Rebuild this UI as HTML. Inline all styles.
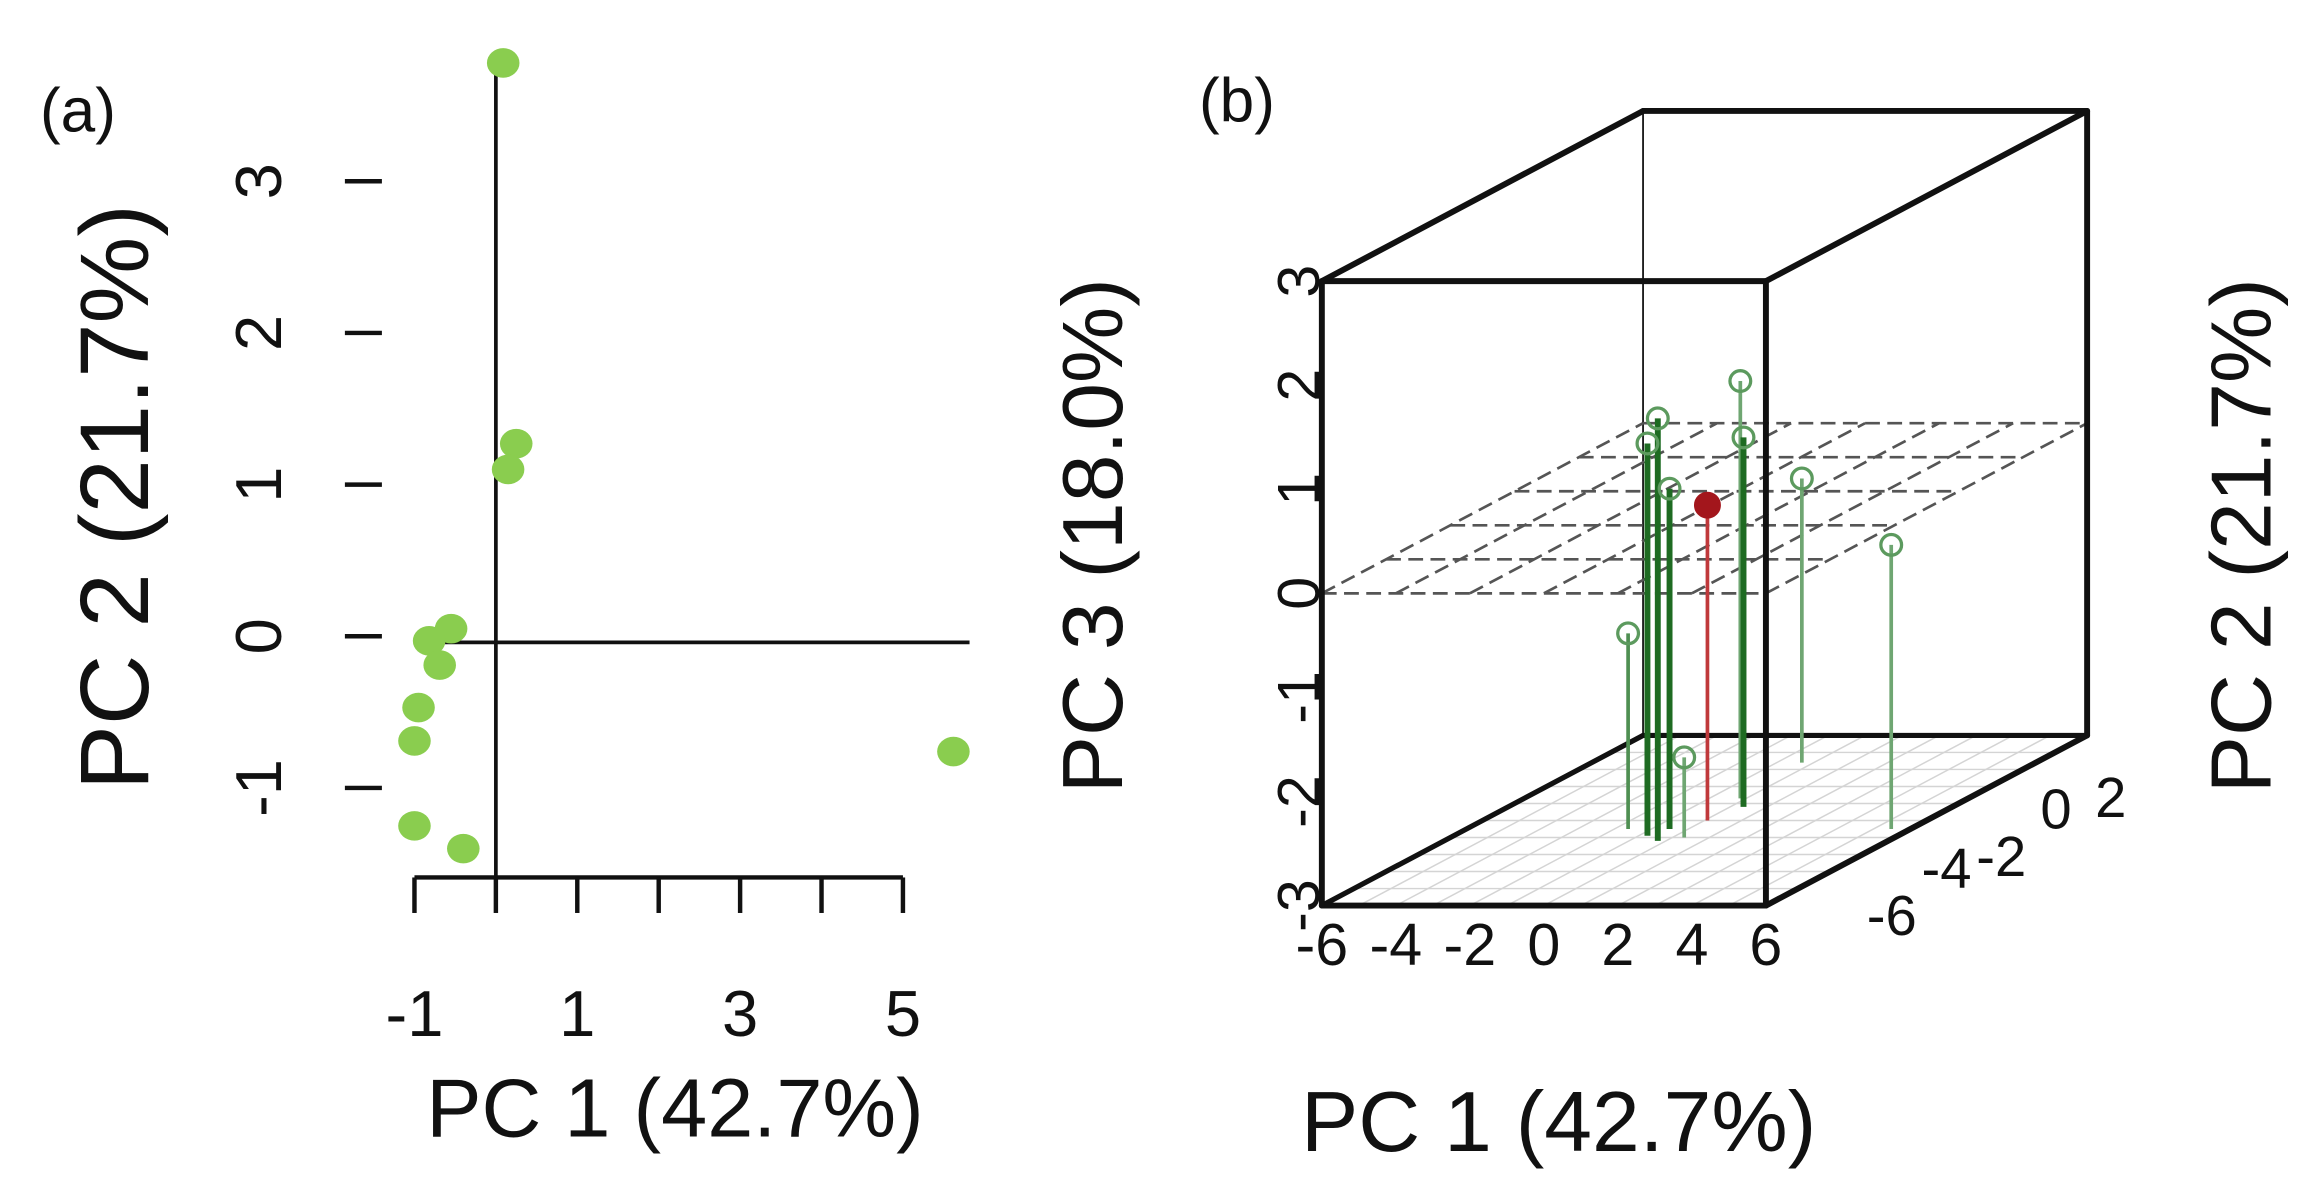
<!DOCTYPE html>
<html><head><meta charset="utf-8"><style>
html,body{margin:0;padding:0;background:#fff}
svg{display:block}
text{font-family:"Liberation Sans",Arial,sans-serif;fill:#111}
</style></head><body>
<svg id="fig" width="2321" height="1203" viewBox="0 0 1568 813" preserveAspectRatio="none">
<rect width="1568" height="813" fill="#fff"/>
<g id="pa"></g>
<g id="pb"></g>
</svg>
<script>
// ---- Panel (a) data ----
const aPC1 = [0.09, 0.25, 0.15, -0.55, -0.82, -0.69, -0.95, -1.0, -1.0, -0.4, 5.62];
const aPC2 = [3.78, 1.27, 1.10, 0.05, -0.03, -0.19, -0.47, -0.69, -1.25, -1.40, -0.76];
const aXTicks = [-1, 0, 1, 2, 3, 4, 5];
const aXLabels = ["-1", "1", "3", "5"];
const aYTicks = [-1, 0, 1, 2, 3];
// ---- Panel (b) data ----
const bPC1 = [-1.63, -0.22, -0.76, -0.51, -0.16, 0.36, -0.32, 5.48, 0.32, 0.08];
const bPC2 = [-2.5, -3.2, -2.9, -2.5, -0.7, -1.2, 1.4, -2.5, -3.0, -2.0];
const bPC3 = [-1.12, 1.06, 0.77, 0.27, 1.01, 0.55, -0.27, -0.27, -2.23, 0.03];
const bGroup = ["g", "d", "d", "d", "l", "d", "l", "l", "l", "r"];
const bXTicks = [-6, -4, -2, 0, 2, 4, 6];
const bYTicks = [-6, -4, -2, 0, 2];
const bZTicks = [-3, -2, -1, 0, 1, 2, 3];

const NS = "http://www.w3.org/2000/svg";
function mk(parent, tag, attrs, txt) {
  const e = document.createElementNS(NS, tag);
  for (const k in attrs) e.setAttribute(k, attrs[k]);
  if (txt !== undefined) e.textContent = txt;
  parent.appendChild(e);
  return e;
}
// ---------- Panel A ----------
const pa = document.getElementById("pa");
const ax = v => 280 + 55 * (v + 1);
const ay = v => 430 - 102.5 * v;
let t = mk(pa, "text", {x: 27, y: 89, "font-size": 42}, "(a)");


let l = mk(pa, "line", {x1: ax(0), y1: 38, x2: ax(0), y2: 593, stroke: "#111", "stroke-width": 2.5});


l = mk(pa, "line", {x1: 300, y1: ay(-0.04), x2: 655, y2: ay(-0.04), stroke: "#111", "stroke-width": 2.5});


l = mk(pa, "line", {x1: ax(-1), y1: 593, x2: ax(5), y2: 593, stroke: "#111", "stroke-width": 3});


aXTicks.forEach(v => {
  const tk = mk(pa, "line", {x1: ax(v), y1: 593, x2: ax(v), y2: 617, stroke: "#111", "stroke-width": 3});
  
  
});
aXLabels.forEach(s => {
  const tl = mk(pa, "text", {x: ax(+s), y: 700, "font-size": 44, "text-anchor": "middle"}, s);
  
  
});
aYTicks.forEach(v => {
  const tk = mk(pa, "line", {x1: 233, y1: ay(v), x2: 258, y2: ay(v), stroke: "#111", "stroke-width": 3});
  
  
  const tl = mk(pa, "text", {x: 0, y: 0, "font-size": 44, "text-anchor": "middle", transform: `translate(190,${ay(v)}) rotate(-90)`}, String(v));
  
  
});
t = mk(pa, "text", {x: 0, y: 0, "font-size": 66, "text-anchor": "middle", transform: "translate(100,336) rotate(-90)"}, "PC 2 (21.7%)");


t = mk(pa, "text", {x: 456, y: 768, "font-size": 56, "text-anchor": "middle"}, "PC 1 (42.7%)");


aPC1.forEach((v, i) => {
  const c = mk(pa, "ellipse", {cx: ax(v), cy: ay(aPC2[i]), rx: 11, ry: 10, fill: "#8acd4f"});
  
  
});
// ---------- Panel B ----------
const pb = document.getElementById("pb");
const X0 = 893, Y0 = 612, W = 300, H = 422, DX = 217, DY = 115;
const depth = y => (y + 7) / 10;
function P(x, y, z) {
  const d = depth(y);
  return [X0 + W * (x + 6) / 12 + DX * d, Y0 - H * (z + 3) / 6 - DY * d];
}
t = mk(pb, "text", {x: 810, y: 82, "font-size": 42}, "(b)");


// floor grid
for (let i = 0; i <= 12; i++) {
  const x = -6 + i;
  const a = P(x, -7, -3), b = P(x, 3, -3);
  const g = mk(pb, "line", {x1: a[0], y1: a[1], x2: b[0], y2: b[1], stroke: "#d4d4d4", "stroke-width": 1});
  
  
}
for (let i = 0; i <= 10; i++) {
  const y = -7 + i;
  const a = P(-6, y, -3), b = P(6, y, -3);
  const g = mk(pb, "line", {x1: a[0], y1: a[1], x2: b[0], y2: b[1], stroke: "#d4d4d4", "stroke-width": 1});
  
  
}
function edge(a, b, w, name) {
  const e = mk(pb, "line", {x1: a[0], y1: a[1], x2: b[0], y2: b[1], stroke: "#111", "stroke-width": w, "stroke-linecap": "round"});
  
  
}
edge(P(-6, 3, -3), P(-6, 3, 3), 1.2, 'box-back-edge');
edge(P(-6, 3, -3), P(6, 3, -3), 3.5, 'box-back-edge');
edge(P(-6, -7, -3), P(-6, 3, -3), 3.5, 'box-edge');
// dashed plane at z=0
for (let i = 0; i <= 6; i++) {
  const x = -6 + 2 * i;
  const a = P(x, -7, 0), b = P(x, 3, 0);
  const g = mk(pb, "line", {x1: a[0], y1: a[1], x2: b[0], y2: b[1], stroke: "#555", "stroke-width": 1.8, "stroke-dasharray": "10 5"});
  
  
}
for (let i = 0; i <= 5; i++) {
  const y = -7 + 2 * i;
  const a = P(-6, y, 0), b = P(6, y, 0);
  const g = mk(pb, "line", {x1: a[0], y1: a[1], x2: b[0], y2: b[1], stroke: "#555", "stroke-width": 1.8, "stroke-dasharray": "10 5"});
  
  
}
// stems
const colStem = {d: "#1e6b22", g: "#4f8f52", l: "#6fa672", r: "#c0393b"};
bPC1.forEach((v, i) => {
  const top = P(v, bPC2[i], bPC3[i]), bot = P(v, bPC2[i], -3);
  const grp = bGroup[i];
  const s = mk(pb, "line", {x1: top[0], y1: top[1], x2: bot[0], y2: bot[1], stroke: colStem[grp], "stroke-width": grp === "d" ? 4 : 2.5});
  
  
  const c = mk(pb, "circle", {cx: top[0], cy: top[1], r: grp === "r" ? 8 : 7, fill: grp === "r" ? "#a3161c" : "none", stroke: grp === "r" ? "#a3161c" : "#5c9a5e", "stroke-width": 2.2});
  
  
});
edge(P(-6, -7, -3), P(6, -7, -3), 4, 'box-front-edge');
edge(P(-6, -7, 3), P(6, -7, 3), 4, 'box-front-edge');
edge(P(-6, -7, -3), P(-6, -7, 3), 4, 'box-front-edge');
edge(P(6, -7, -3), P(6, -7, 3), 4, 'box-front-edge');
edge(P(-6, 3, 3), P(6, 3, 3), 4, 'box-top-edge');
edge(P(6, 3, 3), P(6, 3, -3), 4, 'box-back-right-edge');
edge(P(-6, -7, 3), P(-6, 3, 3), 4, 'box-top-edge');
edge(P(6, -7, 3), P(6, 3, 3), 4, 'box-top-edge');
edge(P(6, -7, -3), P(6, 3, -3), 4, 'box-floor-edge');
bXTicks.forEach(v => {
  const p = P(v, -7, -3);
  const tl = mk(pb, "text", {x: p[0], y: p[1] + 40, "font-size": 40, "text-anchor": "middle"}, String(v));
  
  
});
bZTicks.forEach(v => {
  const p = P(-6, -7, v);
  const tl = mk(pb, "text", {x: 0, y: 0, "font-size": 40, "text-anchor": "middle", transform: `translate(${p[0] - 2},${p[1]}) rotate(-90)`}, String(v));
  
  
});
bYTicks.forEach((v, i) => {
  const tl = mk(pb, "text", {x: 1278 + (v + 6) * 18.5, y: 632 - (v + 6) * 10 - (i % 2) * 12, "font-size": 38, "text-anchor": "middle"}, String(v));
  
  
});
t = mk(pb, "text", {x: 0, y: 0, "font-size": 58, "text-anchor": "middle", transform: "translate(758,362) rotate(-90)"}, "PC 3 (18.0%)");


t = mk(pb, "text", {x: 0, y: 0, "font-size": 58, "text-anchor": "middle", transform: "translate(1534,362) rotate(-90)"}, "PC 2 (21.7%)");


t = mk(pb, "text", {x: 1053, y: 778, "font-size": 58, "text-anchor": "middle"}, "PC 1 (42.7%)");


</script>
</body></html>
